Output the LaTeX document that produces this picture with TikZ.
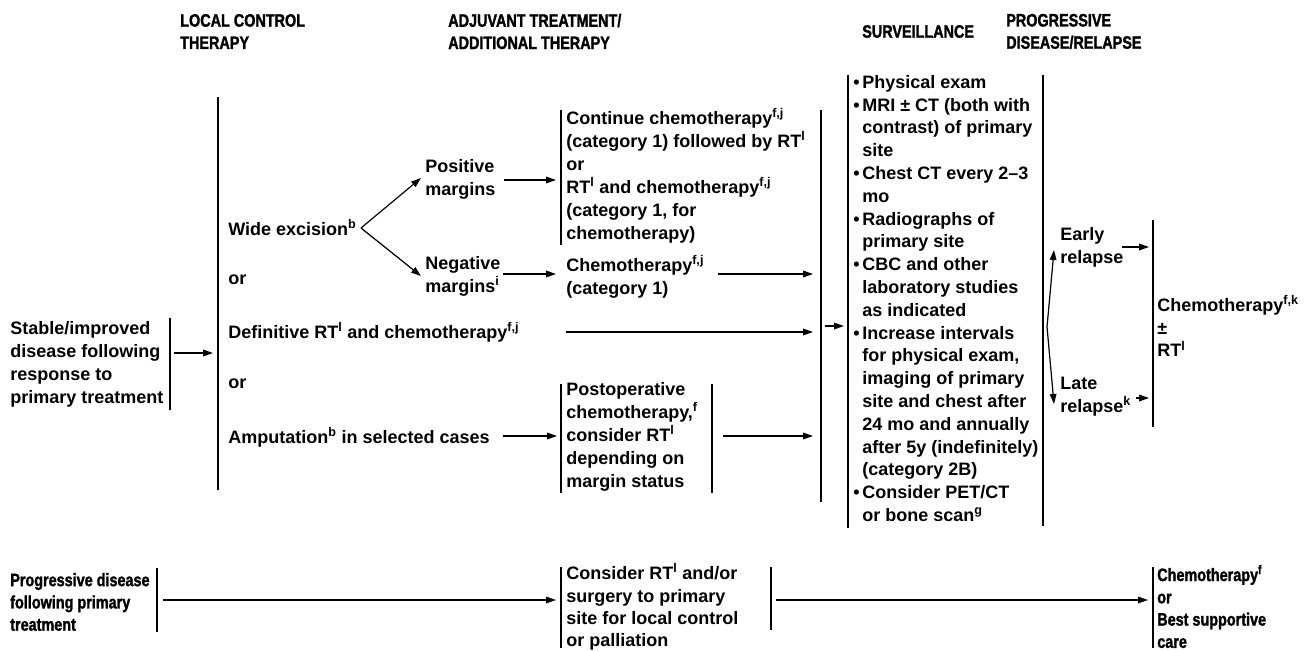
\documentclass[tikz,border=0pt]{standalone}
\usepackage{fontspec}
\setmainfont{Liberation Sans}
\newfontfamily\narrowfont{Liberation Sans Bold}[FakeStretch=0.8,FakeBold=1.5]
\usetikzlibrary{arrows.meta}
\newcommand{\bu}{\makebox[6.75pt][l]{•}}
\newcommand{\ind}{\hspace*{6.75pt}}
\newcommand{\sy}[1]{\textsuperscript{#1}}
\begin{document}
\begin{tikzpicture}[x=0.75pt,y=-0.75pt,
  txt/.style={anchor=west,inner sep=0pt,align=left,font=\bfseries\fontsize{13.5}{17.2}\selectfont},
  ntxt/.style={anchor=west,inner sep=0pt,align=left,font=\narrowfont\fontsize{13.5}{16.7}\selectfont},
  btxt/.style={anchor=west,inner sep=0pt,align=left,font=\bfseries\fontsize{13.5}{16.7}\selectfont},
  vl/.style={line width=1.1pt},
  arr/.style={line width=0.9pt,-{Triangle[length=7.5pt,width=5pt]}}]
\fill[white] (0,0) rectangle (1316,650);
\useasboundingbox (0,0) rectangle (1316,650);

% headers
\node[ntxt] (hLocal) at (180,31.5) {LOCAL CONTROL\\THERAPY};
\node[ntxt] (hAdj) at (448,31.5) {ADJUVANT TREATMENT/\\ADDITIONAL THERAPY};
\node[ntxt] (hSurv) at (862,31.5) {SURVEILLANCE};
\node[ntxt] (hProg) at (1006,31.5) {PROGRESSIVE\\DISEASE/RELAPSE};

% stable / improved
\node[txt] (stable) at (10,364.5) {Stable/improved\\disease following\\response to\\primary treatment};
\coordinate (stT) at (170,318); \coordinate (stB) at (170,410);
\draw[vl] (stT) -- (stB);
\coordinate (stA) at (174,353); \coordinate (stE) at (213,353);
\draw[arr] (stA) -- (stE);

% local control column
\coordinate (mainT) at (218,97); \coordinate (mainB) at (218,490);
\draw[vl] (mainT) -- (mainB);
\node[txt] (wide) at (228,228) {Wide excision\sy{b}};
\node[txt] (or1) at (228,280) {or};
\node[txt] (defin) at (228,332) {Definitive RT\sy{l} and chemotherapy\sy{f,j}};
\node[txt] (or2) at (228,384) {or};
\node[txt] (amput) at (228,437) {Amputation\sy{b} in selected cases};

% branches
\coordinate (br) at (361,228);
\coordinate (posTip) at (421,178);
\coordinate (negTip) at (421,276);
\draw[arr] (br) -- (posTip);
\draw[arr] (br) -- (negTip);
\node[txt] (pos) at (425,179.5) {Positive\\margins};
\node[txt] (neg) at (425,276.5) {Negative\\margins\sy{i}};
\coordinate (posA) at (504,180); \coordinate (posE) at (556,180);
\draw[arr] (posA) -- (posE);
\coordinate (negA) at (503,274); \coordinate (negE) at (556,274);
\draw[arr] (negA) -- (negE);

% adjuvant column
\coordinate (a1T) at (561,110); \coordinate (a1B) at (561,245);
\draw[vl] (a1T) -- (a1B);
\node[txt] (adj1) at (566,175.5) {Continue chemotherapy\sy{f,j}\\(category 1) followed by RT\sy{l}\\or\\RT\sy{l} and chemotherapy\sy{f,j}\\(category 1, for\\chemotherapy)};
\node[txt] (chemo1) at (566,276.5) {Chemotherapy\sy{f,j}\\(category 1)};
\coordinate (c1A) at (718,274); \coordinate (c1E) at (813,274);
\draw[arr] (c1A) -- (c1E);
\coordinate (dA) at (566,332); \coordinate (dE) at (813,332);
\draw[arr] (dA) -- (dE);
\coordinate (amA) at (503,436); \coordinate (amE) at (557,436);
\draw[arr] (amA) -- (amE);
\coordinate (poLT) at (561,384); \coordinate (poLB) at (561,493);
\coordinate (poRT) at (712,384); \coordinate (poRB) at (712,493);
\draw[vl] (poLT) -- (poLB);
\draw[vl] (poRT) -- (poRB);
\node[txt] (postop) at (566,437) {Postoperative\\chemotherapy,\sy{f}\\consider RT\sy{l}\\depending on\\margin status};
\coordinate (poA) at (723,436); \coordinate (poE) at (813,436);
\draw[arr] (poA) -- (poE);

% collector and surveillance
\coordinate (colT) at (821,110); \coordinate (colB) at (821,502);
\draw[vl] (colT) -- (colB);
\coordinate (colA) at (825,326); \coordinate (colE) at (844,326);
\draw[arr] (colA) -- (colE);
\coordinate (svLT) at (848,75); \coordinate (svLB) at (848,528);
\coordinate (svRT) at (1043,75); \coordinate (svRB) at (1043,526);
\draw[vl] (svLT) -- (svLB);
\draw[vl] (svRT) -- (svRB);
\node[anchor=west,inner sep=0pt,align=left,font=\bfseries\fontsize{13.5}{17.1}\selectfont] (surv) at (853,298.5) {%
\bu Physical exam\\
\bu MRI ± CT (both with\\
\ind contrast) of primary\\
\ind site\\
\bu Chest CT every 2–3\\
\ind mo\\
\bu Radiographs of\\
\ind primary site\\
\bu CBC and other\\
\ind laboratory studies\\
\ind as indicated\\
\bu Increase intervals\\
\ind for physical exam,\\
\ind imaging of primary\\
\ind site and chest after\\
\ind 24 mo and annually\\
\ind after 5y (indefinitely)\\
\ind (category 2B)\\
\bu Consider PET/CT\\
\ind or bone scan\sy{g}};

% relapse
\coordinate (rb) at (1047,327);
\coordinate (eTip) at (1054,250);
\coordinate (lTip) at (1054,404);
\draw[arr] (rb) -- (eTip);
\draw[arr] (rb) -- (lTip);
\node[txt] (early) at (1060,247.5) {Early\\relapse};
\node[txt] (late) at (1060,396.5) {Late\\relapse\sy{k}};
\coordinate (eA) at (1122,247); \coordinate (eE) at (1149,247);
\draw[arr] (eA) -- (eE);
\coordinate (lA) at (1136,398); \coordinate (lE) at (1149,398);
\draw[arr] (lA) -- (lE);
\coordinate (rT) at (1153,220); \coordinate (rB) at (1153,427);
\draw[vl] (rT) -- (rB);
\node[txt] (rchemo) at (1157,326) {Chemotherapy\sy{f,k}\\±\\RT\sy{l}};

% bottom row
\node[ntxt] (prog) at (10,602) {Progressive disease\\following primary\\treatment};
\coordinate (pgT) at (157,568); \coordinate (pgB) at (157,632);
\draw[vl] (pgT) -- (pgB);
\coordinate (pgA) at (163,600); \coordinate (pgE) at (556,600);
\draw[arr] (pgA) -- (pgE);
\coordinate (coLT) at (561,567); \coordinate (coLB) at (561,648);
\draw[vl] (coLT) -- (coLB);
\node[btxt] (consider) at (566,607) {Consider RT\sy{l} and/or\\surgery to primary\\site for local control\\or palliation};
\coordinate (coRT) at (771,567); \coordinate (coRB) at (771,630);
\draw[vl] (coRT) -- (coRB);
\coordinate (coA) at (776,600); \coordinate (coE) at (1148,600);
\draw[arr] (coA) -- (coE);
\coordinate (bsT) at (1153,567); \coordinate (bsB) at (1153,648);
\draw[vl] (bsT) -- (bsB);
\node[ntxt] (bsc) at (1157,606.5) {Chemotherapy\sy{f}\\or\\Best supportive\\care};
\end{tikzpicture}
\end{document}
